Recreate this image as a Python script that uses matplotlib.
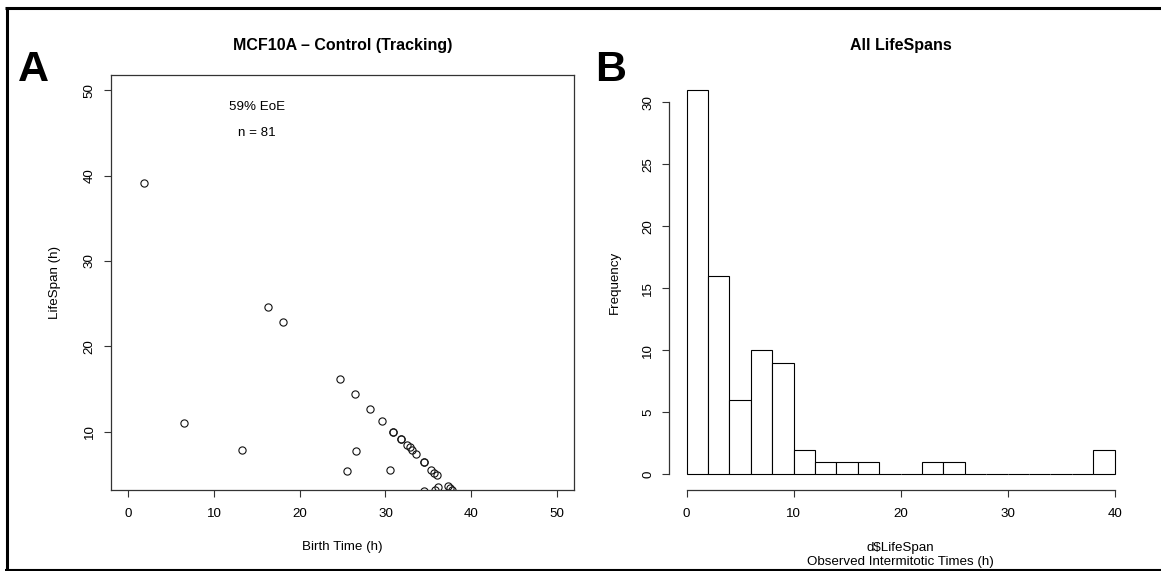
import matplotlib
matplotlib.use("Agg")
import matplotlib.pyplot as plt
from matplotlib.lines import Line2D
import numpy as np

plt.rcParams['font.family'] = ['Liberation Sans', 'DejaVu Sans']

# Panel A: birth time vs. lifespan of tracked cells (h)
birth_time = [1.8, 16.3, 18.1, 24.65, 26.45, 28.2, 29.6,
              30.9, 30.9, 31.75, 31.75, 32.5, 32.8, 33.05, 33.55,
              34.5, 34.5, 35.35, 35.65, 36.05, 37.25, 37.55,
              36.1, 34.5, 35.8, 37.7,
              6.5, 13.25, 26.55, 25.5, 30.5]
life_span = [39.1, 24.6, 22.8, 16.2, 14.4, 12.7, 11.3,
             10.0, 10.0, 9.2, 9.2, 8.4, 8.2, 7.9, 7.4,
             6.5, 6.5, 5.5, 5.2, 4.9, 3.7, 3.4,
             3.5, 3.1, 3.2, 3.2,
             11.0, 7.9, 7.8, 5.4, 5.5]
annot_eoe = "59% EoE"
annot_n = "n = 81"

# Panel B: histogram of all lifespans (2 h bins)
bin_edges = list(range(0, 42, 2))
bin_counts = [31, 16, 6, 10, 9, 2, 1, 1, 1, 0, 0, 1, 1, 0, 0, 0, 0, 0, 0, 2]

W, H = 1161, 571
fig = plt.figure(figsize=(W / 100, H / 100), dpi=100)

def frac(left, top, right, bottom):
    return [left / W, 1 - bottom / H, (right - left) / W, (bottom - top) / H]

fs = 9.6
axA = fig.add_axes(frac(111, 74.7, 574.2, 489.7))
axB = fig.add_axes(frac(669.4, 74.7, 1131.7, 489.7))

# --- Panel A: scatter ---
axA.plot(birth_time, life_span, linestyle='none', marker='o', markersize=5.2,
         markerfacecolor='none', markeredgecolor='#111111', markeredgewidth=0.8)
axA.set_xlim(-2, 52)
axA.set_ylim(3.22, 51.8)
axA.set_xticks(np.arange(0, 51, 10))
axA.set_yticks(np.arange(10, 51, 10))
axA.text(15, 48, annot_eoe, ha='center', va='center', fontsize=fs)
axA.text(15, 45, annot_n, ha='center', va='center', fontsize=fs)
axA.set_title("MCF10A \u2013 Control (Tracking)", fontsize=11.5,
              fontweight='bold', pad=18)
axA.set_xlabel("Birth Time (h)", fontsize=fs)
axA.set_ylabel("LifeSpan (h)", fontsize=fs)
axA.xaxis.set_label_coords(0.5, -57 / 415)
axA.xaxis.label.set_va('center')
axA.yaxis.set_label_coords(-55.5 / 463, 0.5)
axA.yaxis.label.set_va('center')
for s in axA.spines.values():
    s.set_linewidth(0.9)
    s.set_color('#333333')

# --- Panel B: histogram ---
widths = np.diff(bin_edges)
axB.bar(bin_edges[:-1], bin_counts, width=widths, align='edge',
        facecolor='white', edgecolor='black', linewidth=0.8)
axB.set_xlim(-1.6, 41.6)
axB.set_ylim(-1.24, 32.24)
axB.set_xticks(np.arange(0, 41, 10))
axB.set_yticks(np.arange(0, 31, 5))
axB.spines['top'].set_visible(False)
axB.spines['right'].set_visible(False)
axB.spines['left'].set_bounds(0, 30)
axB.spines['bottom'].set_bounds(0, 40)
for s in ('left', 'bottom'):
    axB.spines[s].set_linewidth(0.9)
    axB.spines[s].set_color('#333333')
axB.set_title("All LifeSpans", fontsize=11.5, fontweight='bold', pad=18)
axB.set_xlabel("d$LifeSpan\nObserved Intermitotic Times (h)", fontsize=fs,
               linespacing=1.25)
axB.xaxis.set_label_coords(0.5, -65.3 / 415)
axB.xaxis.label.set_va('center')
axB.set_ylabel("Frequency", fontsize=fs)
axB.yaxis.set_label_coords(-54.4 / 462.3, 0.5)
axB.yaxis.label.set_va('center')

for ax in (axA, axB):
    ax.tick_params(axis='both', direction='out', length=5, width=0.8,
                   color='#333333', labelsize=fs)
    ax.tick_params(axis='x', pad=8)
    ax.tick_params(axis='y', pad=6, labelrotation=90)
    for lab in ax.get_yticklabels():
        lab.set_va('center')

# Panel letters
fig.text(18 / W, 1 - 80.7 / H, "A", fontsize=31, fontweight='bold',
         ha='left', va='baseline')
fig.text(595.5 / W, 1 - 80.7 / H, "B", fontsize=31, fontweight='bold',
         ha='left', va='baseline')

# Outer frame (top, left, bottom)
def hline(y, x0, x1, lw):
    fig.add_artist(Line2D([x0 / W, x1 / W], [1 - y / H, 1 - y / H],
                          transform=fig.transFigure, color='black',
                          linewidth=lw, solid_capstyle='butt'))

def vline(x, y0, y1, lw):
    fig.add_artist(Line2D([x / W, x / W], [1 - y0 / H, 1 - y1 / H],
                          transform=fig.transFigure, color='black',
                          linewidth=lw, solid_capstyle='butt'))

hline(8, 5, W, 2.2)
vline(6.6, 6.5, H, 2.2)
hline(569.8, 5, W, 1.5)

fig.savefig("out.png", dpi=100)
